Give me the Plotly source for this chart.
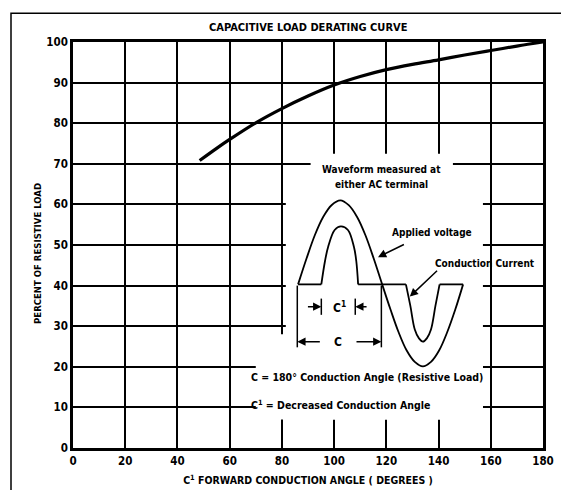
import plotly.graph_objects as go

# ---------------- data ----------------
curve_x = [48.5, 55, 60, 70, 80, 90, 100, 110, 120, 130, 140, 150, 160, 170, 180]
curve_y = [70.8, 73.8, 76.0, 80.1, 83.6, 86.7, 89.4, 91.5, 93.2, 94.5, 95.6, 96.8, 97.9, 99.0, 100.0]

x_ticks = [0, 20, 40, 60, 80, 100, 120, 140, 160, 180]
y_ticks = [0, 10, 20, 30, 40, 50, 60, 70, 80, 90, 100]

# inset waveform (schematic, in chart units)
volt_x = [86.2, 89.4, 92.6, 95.8, 99.0, 102.4, 105.6, 108.8, 112.0, 115.2, 118.4,
          121.6, 124.7, 127.8, 130.9, 134.0, 137.1, 140.2, 143.3, 146.4, 149.4]
volt_y = [40.3, 46.6, 52.4, 56.9, 59.8, 61.0, 59.8, 56.9, 52.4, 46.6, 40.3,
          34.1, 28.5, 24.0, 21.2, 20.1, 21.2, 24.0, 28.5, 34.1, 40.3]
cur_pos_x = [95.1, 96.5, 97.7, 100.2, 102.6, 105.3, 107.6, 108.5, 109.2]
cur_pos_y = [40.3, 46.0, 49.5, 53.7, 54.6, 53.7, 49.5, 46.0, 40.3]
cur_neg_x = [127.5, 129.2, 130.9, 132.5, 134.0, 135.5, 137.1, 138.8, 140.4]
cur_neg_y = [40.3, 35.0, 29.2, 27.0, 26.2, 27.0, 29.2, 35.0, 40.3]
base_x = [86.2, 95.1, None, 109.2, 127.5, None, 140.4, 149.4]
base_y = [40.3, 40.3, None, 40.3, 40.3, None, 40.3, 40.3]

FONT = "Liberation Sans Narrow, DejaVu Sans Condensed, Arial Narrow, sans-serif"
BLACK = "#000000"

fig = go.Figure()

fig.add_trace(go.Scatter(x=curve_x, y=curve_y, mode="lines", line_shape="spline",
                         line=dict(color=BLACK, width=3.2), hoverinfo="skip"))
fig.add_trace(go.Scatter(x=volt_x, y=volt_y, mode="lines", line_shape="spline",
                         line=dict(color=BLACK, width=1.8), hoverinfo="skip"))
fig.add_trace(go.Scatter(x=cur_pos_x, y=cur_pos_y, mode="lines", line_shape="spline",
                         line=dict(color=BLACK, width=1.8), hoverinfo="skip"))
fig.add_trace(go.Scatter(x=cur_neg_x, y=cur_neg_y, mode="lines", line_shape="spline",
                         line=dict(color=BLACK, width=1.8), hoverinfo="skip"))
fig.add_trace(go.Scatter(x=base_x, y=base_y, mode="lines",
                         line=dict(color=BLACK, width=1.8), hoverinfo="skip"))

shapes = []
# white masks hiding the grid behind the inset drawing
for (x0, x1, y0, y1) in [(81.5, 157, 7, 69), (91, 145.5, 69, 72.5), (70, 157, 7, 28)]:
    shapes.append(dict(type="rect", xref="x", yref="y", x0=x0, x1=x1, y0=y0, y1=y1,
                       fillcolor="white", line=dict(width=0), layer="between"))
# dimension lines
for xx in [85.9, 118.1]:
    shapes.append(dict(type="line", xref="x", yref="y", x0=xx, x1=xx, y0=40, y1=24.8,
                       line=dict(color=BLACK, width=1.5)))
for xx in [95.1, 108.1]:
    shapes.append(dict(type="line", xref="x", yref="y", x0=xx, x1=xx, y0=36.8, y1=32.8,
                       line=dict(color=BLACK, width=1.5)))
# outer frame
shapes.append(dict(type="rect", xref="paper", yref="paper",
                   x0=(3 - 65) / 470, x1=(566 - 65) / 470,
                   y0=(442 - 500) / 408, y1=(442 - 5) / 408,
                   line=dict(color=BLACK, width=1.5), fillcolor="rgba(0,0,0,0)"))

ann = []
def arrow(xh, yh, xt, yt, w=1.5):
    ann.append(dict(x=xh, y=yh, ax=xt, ay=yt, xref="x", yref="y", axref="x", ayref="y",
                    text="", showarrow=True, arrowhead=2, arrowsize=1.1, arrowwidth=w,
                    arrowcolor=BLACK))

arrow(95.1, 34.8, 89.4, 34.8)
arrow(108.1, 34.8, 113.0, 34.8)
arrow(85.9, 26.2, 95.1, 26.2)
arrow(118.1, 26.2, 108.0, 26.2)
arrow(116.8, 47.0, 127.3, 50.3)
arrow(129.0, 37.3, 140.0, 44.0)

def txt(x, y, s, size=10, xanchor="center"):
    ann.append(dict(x=x, y=y, xref="x", yref="y", text=s, showarrow=False,
                    xanchor=xanchor, yanchor="middle",
                    font=dict(family=FONT, size=size, color=BLACK, weight="bold")))

txt(118.3, 68.6, "Waveform measured at")
txt(118.3, 65.0, "either AC terminal")
txt(137.5, 53.2, "Applied voltage")
txt(137.9, 45.4, "Conduction Current", xanchor="left")
txt(102.0, 34.8, "C<sup>1</sup>", size=12)
txt(101.5, 26.2, "C", size=12)
txt(67.5, 17.6, "C = 180° Conduction Angle (Resistive Load)", xanchor="left", size=10.5)
txt(67.5, 10.8, "C<sup>1</sup> = Decreased Conduction Angle", xanchor="left", size=10.5)

# chart title
ann.append(dict(x=0.5, y=(442 - 19) / 408, xref="paper", yref="paper",
                text="CAPACITIVE LOAD DERATING CURVE", showarrow=False,
                xanchor="center", yanchor="middle",
                font=dict(family=FONT, size=11, color=BLACK, weight="bold")))
# y-axis title
ann.append(dict(x=(30 - 65) / 470, y=(442 - 247) / 408, xref="paper", yref="paper",
                text="PERCENT OF RESISTIVE LOAD", showarrow=False, textangle=-90,
                xanchor="center", yanchor="middle",
                font=dict(family=FONT, size=9.5, color=BLACK, weight="bold")))

axis_font = dict(family=FONT, size=11.5, color=BLACK, weight="bold")
fig.update_layout(
    width=569, height=490,
    margin=dict(l=65, r=34, t=34, b=48),
    paper_bgcolor="white", plot_bgcolor="white",
    showlegend=False,
    shapes=shapes, annotations=ann,
    xaxis=dict(range=[0, 180], tickvals=x_ticks, ticktext=[str(v) for v in x_ticks],
               showgrid=True, gridcolor=BLACK, gridwidth=1.8, zeroline=False,
               showline=True, mirror=True, linecolor=BLACK, linewidth=2.5,
               ticks="", tickfont=axis_font,
               title=dict(text="C<sup>1</sup> FORWARD CONDUCTION ANGLE ( DEGREES )",
                          font=dict(family=FONT, size=10.5, color=BLACK, weight="bold"),
                          standoff=11)),
    yaxis=dict(range=[0, 100], tickvals=y_ticks, ticktext=[str(v) for v in y_ticks],
               showgrid=True, gridcolor=BLACK, gridwidth=1.8, zeroline=False,
               showline=True, mirror=True, linecolor=BLACK, linewidth=2.5,
               ticks="", tickfont=axis_font),
)

fig.write_html("out.html")
